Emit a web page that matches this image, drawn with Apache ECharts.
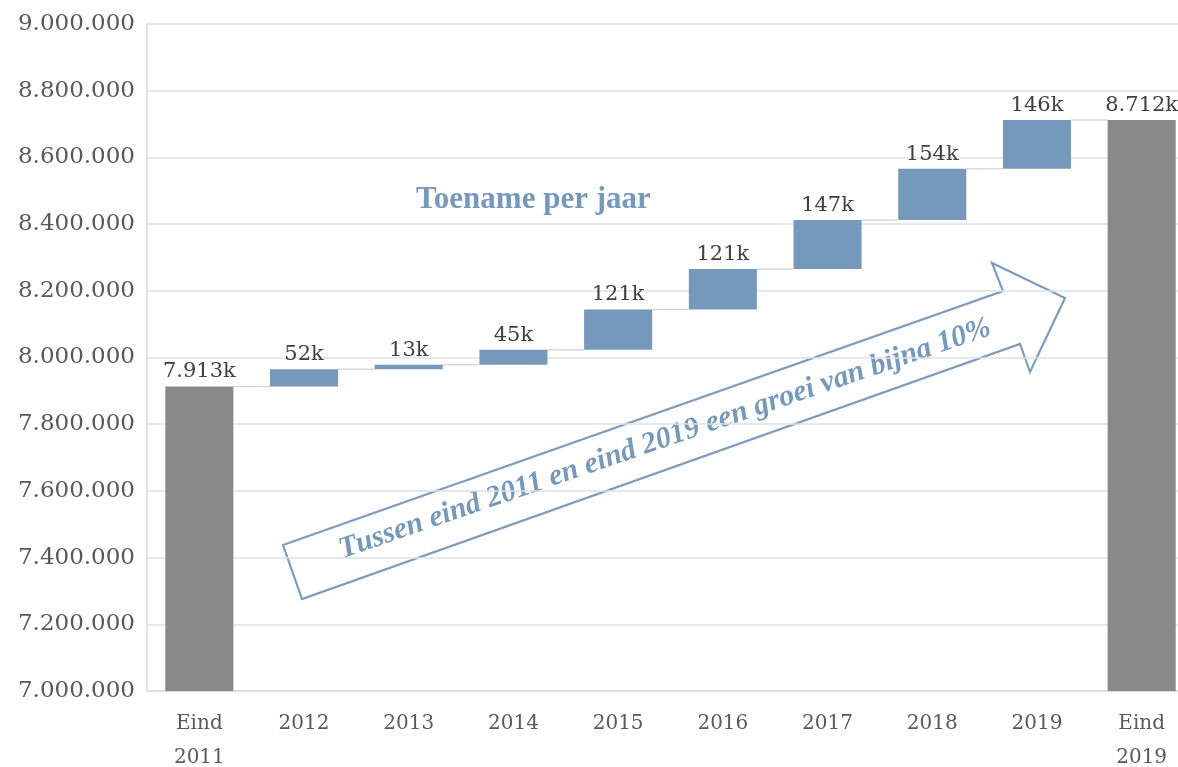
<!DOCTYPE html>
<html>
<head>
<meta charset="utf-8">
<script src="https://cdn.jsdelivr.net/npm/echarts@6/dist/echarts.min.js"></script>
<style>
  html, body { margin: 0; padding: 0; background: #fff; }
  #chart { width: 1178px; height: 767px; }
</style>
</head>
<body>
<div id="chart"></div>
<script>
const categories = ['Eind\n2011', '2012', '2013', '2014', '2015', '2016', '2017', '2018', '2019', 'Eind\n2019'];
const startTotal = 7913000;
const increments = [52000, 13000, 45000, 121000, 121000, 147000, 154000, 146000];
const endTotal = 8712000;
const yTicks = { min: 7000000, max: 9000000, interval: 200000 };

const blue = '#7499bd';
const grey = '#898989';
const textGrey = '#595959';

// waterfall: invisible base + visible delta
const baseData = [0];
const deltaData = [{ value: startTotal, itemStyle: { color: grey } }];
const tops = [startTotal];
let running = startTotal;
increments.forEach(v => {
  baseData.push(running);
  deltaData.push({ value: v, itemStyle: { color: blue } });
  running += v;
  tops.push(running);
});
baseData.push(0);
deltaData.push({ value: endTotal, itemStyle: { color: grey } });
tops.push(endTotal);

const dotted = n => String(n).replace(/\B(?=(\d{3})+(?!\d))/g, '.');
const kLabel = (v, i) => (i === 0 || i === categories.length - 1)
  ? dotted(Math.round(v / 1000)) + 'k'
  : Math.round(v / 1000) + 'k';

const connectors = tops.slice(0, -1).map((t, i) => [i, t]);
const barRatio = 0.65;

const chart = echarts.init(document.getElementById('chart'));
chart.setOption({
  animation: false,
  grid: { left: 147, right: -16, top: 24, bottom: 76, outerBoundsMode: 'none', containLabel: false },
  xAxis: {
    type: 'category',
    data: categories,
    axisLine: { show: true, lineStyle: { color: '#d9d9d9', width: 1.5 } },
    axisTick: { show: false },
    axisLabel: {
      color: textGrey, fontFamily: 'DejaVu Serif', fontSize: 20,
      margin: 16, lineHeight: 34, interval: 0
    }
  },
  yAxis: {
    type: 'value',
    min: yTicks.min, max: yTicks.max, interval: yTicks.interval,
    axisLine: { show: true, lineStyle: { color: '#d9d9d9', width: 1.5 } },
    axisTick: { show: false },
    splitLine: { lineStyle: { color: '#e0e0e0', width: 1.5 } },
    axisLabel: {
      color: textGrey, fontFamily: 'DejaVu Serif', fontSize: 23, margin: 12,
      formatter: v => dotted(v)
    }
  },
  series: [
    {
      type: 'bar', stack: 'w', data: baseData, barWidth: '65%',
      itemStyle: { color: 'transparent' }, silent: true
    },
    {
      type: 'bar', stack: 'w', data: deltaData, barWidth: '65%',
      label: {
        show: true, position: 'top', distance: 4,
        color: '#404040', fontFamily: 'DejaVu Serif', fontSize: 21,
        formatter: p => kLabel(p.value, p.dataIndex)
      }
    },
    {
      type: 'custom',
      data: connectors,
      z: 1,
      renderItem: (params, api) => {
        const i = api.value(0);
        const y = api.coord([i, api.value(1)])[1];
        const step = api.size([1, 0])[0];
        const half = step * barRatio / 2;
        const x1 = api.coord([i, 0])[0] + half;
        const x2 = api.coord([i + 1, 0])[0] - half;
        return {
          type: 'line',
          shape: { x1, y1: y, x2, y2: y },
          style: { stroke: '#d9d9d9', lineWidth: 1.5 }
        };
      }
    }
  ],
  graphic: [
    {
      type: 'text', left: 416, top: 184,
      style: {
        text: 'Toename per jaar', fill: blue,
        font: 'bold 31px "Liberation Serif"'
      }
    },
    {
      type: 'polygon',
      shape: {
        points: [[283, 545], [1003, 291], [992, 263], [1065, 298], [1030, 372], [1020, 344], [302, 599]]
      },
      style: { fill: 'none', stroke: '#7a9cbf', lineWidth: 2.2 }
    },
    {
      type: 'text', x: 665, y: 439, rotation: 19 * Math.PI / 180,
      style: {
        text: 'Tussen eind 2011 en eind 2019 een groei van bijna 10%',
        fill: blue, align: 'center', verticalAlign: 'middle',
        font: 'italic bold 30px "Liberation Serif"'
      }
    }
  ]
});
</script>
</body>
</html>
